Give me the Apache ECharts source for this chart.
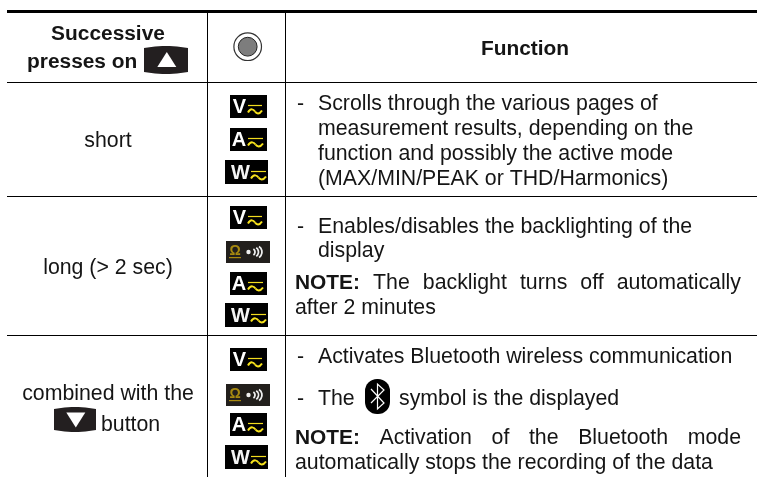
<!DOCTYPE html>
<html>
<head>
<meta charset="utf-8">
<style>html,body{margin:0;padding:0;background:#fff}#chart{width:757px;height:477px}</style>
<script src="https://cdn.jsdelivr.net/npm/echarts@6/dist/echarts.min.js"></script>
</head>
<body>
<div id="chart"></div>
<script>
// table texts
var headerLeft = ['Successive', 'presses on'];
var headerRight = 'Function';
var pressLabels = ['short', 'long (> 2 sec)', 'combined with the', 'button'];
var noteLabel = 'NOTE:';
var row1Lines = ['Scrolls through the various pages of', 'measurement results, depending on the', 'function and possibly the active mode', '(MAX/MIN/PEAK or THD/Harmonics)'];
var row2Lines = ['Enables/disables the backlighting of the', 'display'];
var row2Note = ['The backlight turns off automatically', 'after 2 minutes'];
var row3Lines = ['Activates Bluetooth wireless communication', 'The', 'symbol is the displayed'];
var row3Note = ['Activation of the Bluetooth mode', 'automatically stops the recording of the data'];

var FONT = '"Liberation Sans", Arial, sans-serif';
var SIZE = 21.3;
var BOLD_SIZE = 20.9;
var INK = '#151515';
var els = [];

var ctx = document.createElement('canvas').getContext('2d');
function measure(str, bold) {
  ctx.font = (bold ? 'bold ' + BOLD_SIZE : SIZE) + 'px ' + FONT;
  return ctx.measureText(str).width;
}
function txt(str, x, y, opt) {
  opt = opt || {};
  var size = opt.size || (opt.bold ? BOLD_SIZE : SIZE);
  els.push({
    type: 'text', x: x, y: opt.size ? y : y + 0.8, silent: true,
    style: {
      text: str, fill: opt.fill || INK, font: (opt.bold ? 'bold ' : '') + size + 'px ' + FONT,
      textAlign: opt.align || 'left', textVerticalAlign: 'middle'
    }
  });
}
function rule(x1, y1, x2, y2, w) {
  els.push({type: 'line', silent: true, shape: {x1: x1, y1: y1, x2: x2, y2: y2}, style: {stroke: '#000', lineWidth: w || 1}});
}
function box(x, y, w, h, fill) {
  els.push({type: 'rect', silent: true, shape: {x: x, y: y, width: w, height: h}, style: {fill: fill || '#000'}});
}
function poly(type, pts, style) {
  els.push({type: type, silent: true, shape: {points: pts}, style: style});
}
function curve(x1, y1, a, b, c, d, x2, y2, style) {
  els.push({type: 'bezierCurve', silent: true, shape: {x1: x1, y1: y1, cpx1: a, cpy1: b, cpx2: c, cpy2: d, x2: x2, y2: y2}, style: style});
}
// justified line: words spread between x1 and x2
function justified(words, x1, x2, y, firstBold) {
  var used = 0;
  words.forEach(function(w, i){ used += measure(w, firstBold && i === 0); });
  var gap = (x2 - x1 - used) / (words.length - 1);
  var x = x1;
  words.forEach(function(w, i){
    var bold = firstBold && i === 0;
    txt(w, x, y, {bold: bold});
    x += measure(w, bold) + gap;
  });
}
function acSign(x, y, w) {
  // bar over a wave
  rule(x, y, x + w, y, 1.2);
  els[els.length - 1].style.stroke = '#f2dc1e';
  var m = y + 6;
  var st = {fill: 'none', stroke: '#f7e21c', lineWidth: 2};
  curve(x, m + 1, x + w * 0.2, m - 4, x + w * 0.4, m - 2, x + w * 0.5, m, st);
  curve(x + w * 0.5, m, x + w * 0.6, m + 2, x + w * 0.8, m + 3.5, x + w, m - 1, st);
}
function iconV(y) {
  box(230, y, 37, 23);
  txt('V', 239.5, y + 12, {bold: true, fill: '#fff', size: 20, align: 'center'});
  acSign(248, y + 10.5, 14);
}
function iconA(y) {
  box(230, y, 37, 23);
  txt('A', 239, y + 12, {bold: true, fill: '#fff', size: 20, align: 'center'});
  acSign(248, y + 10.5, 15);
}
function iconW(y) {
  box(225, y, 43, 24);
  txt('W', 240.5, y + 13, {bold: true, fill: '#f4f4f4', size: 20, align: 'center'});
  acSign(251, y + 11.5, 15);
}
function iconBuzz(y) {
  box(226, y, 44, 22, '#221f1c');
  txt('\u03a9', 235, y + 10.5, {fill: '#a88a10', size: 14, align: 'center', bold: true});
  box(229, y + 16, 12, 1.2, '#a88a10');
  els.push({type: 'circle', silent: true, shape: {cx: 248.5, cy: y + 11, r: 2.2}, style: {fill: '#eee'}});
  [[254, 3.5], [257.5, 5], [261, 6.5]].forEach(function(a){
    els.push({type: 'arc', silent: true, shape: {cx: a[0] - a[1] + 1, cy: y + 11, r: a[1], startAngle: -1, endAngle: 1},
      style: {fill: 'none', stroke: '#eee', lineWidth: 1.8}});
  });
}
function button(x, y, w, h, up) {
  var b = 3, pts = [], i, t;
  for (i = 0; i <= 12; i++) {
    t = i / 12;
    pts.push([x + w * t, y + b - 4 * (b - 1) * t * (1 - t)]);
  }
  for (i = 12; i >= 0; i--) {
    t = i / 12;
    pts.push([x + w * t, y + h - b + 4 * (b - 1) * t * (1 - t)]);
  }
  poly('polygon', pts, {fill: '#231f20'});
  var cx = x + w / 2 + 0.8, cy = y + h / 2;
  var tri = up ? [[cx - 9.5, cy + 7], [cx + 9.5, cy + 7], [cx, cy - 8]] : [[cx - 9.5, cy - 7], [cx + 9.5, cy - 7], [cx, cy + 8]];
  poly('polygon', tri, {fill: '#fff'});
}

// grid lines
rule(7, 11.5, 757, 11.5, 3);
rule(7, 82.5, 757, 82.5);
rule(7, 196.5, 757, 196.5);
rule(7, 335.5, 757, 335.5);
rule(207.5, 13, 207.5, 477);
rule(285.5, 13, 285.5, 477);

// left column
txt(headerLeft[0], 108, 33.5, {bold: true, align: 'center'});
txt(headerLeft[1], 27, 61, {bold: true});
button(144, 45, 44, 30, true);
txt(pressLabels[0], 108, 140, {align: 'center'});
txt(pressLabels[1], 108, 267.3, {align: 'center'});
txt(pressLabels[2], 108, 393, {align: 'center'});
button(54, 406, 42, 27, false);
txt(pressLabels[3], 101, 424.5);

// middle column
els.push({type: 'circle', silent: true, shape: {cx: 247.7, cy: 46.7, r: 13.8}, style: {fill: '#fff', stroke: '#333', lineWidth: 1.2}});
els.push({type: 'circle', silent: true, shape: {cx: 247.7, cy: 46.7, r: 9.4}, style: {fill: '#7d7d7d', stroke: '#222', lineWidth: 1}});
iconV(95); iconA(128); iconW(160);
iconV(206); iconBuzz(241); iconA(272); iconW(303);
iconV(348); iconBuzz(384); iconA(413); iconW(445);

// right column
txt(headerRight, 525, 48, {bold: true, align: 'center'});
var dash = function(y){ txt('-', 297, y); };
dash(103);
[103, 128, 153, 178].forEach(function(y, i){ txt(row1Lines[i], 318, y); });
dash(226);
txt(row2Lines[0], 318, 226);
txt(row2Lines[1], 318, 250);
justified([noteLabel].concat(row2Note[0].split(' ')), 295, 741, 282, true);
txt(row2Note[1], 295, 307);
dash(356.5);
txt(row3Lines[0], 318, 356.5);
dash(398.5);
txt(row3Lines[1], 318, 398.5);
txt(row3Lines[2], 399, 398.5);
els.push({type: 'rect', silent: true, shape: {x: 365, y: 379, width: 25, height: 35, r: 12}, style: {fill: '#000'}});
poly('polyline', [[371, 389], [384, 403], [377.5, 409], [377.5, 384], [384, 390], [371, 403]], {fill: 'none', stroke: '#fff', lineWidth: 1.2});
justified([noteLabel].concat(row3Note[0].split(' ')), 295, 741, 437, true);
txt(row3Note[1], 295, 462.3);

var chart = echarts.init(document.getElementById('chart'));
chart.setOption({
  animation: false,
  backgroundColor: '#fff',
  graphic: {elements: els}
});
</script>
</body>
</html>
